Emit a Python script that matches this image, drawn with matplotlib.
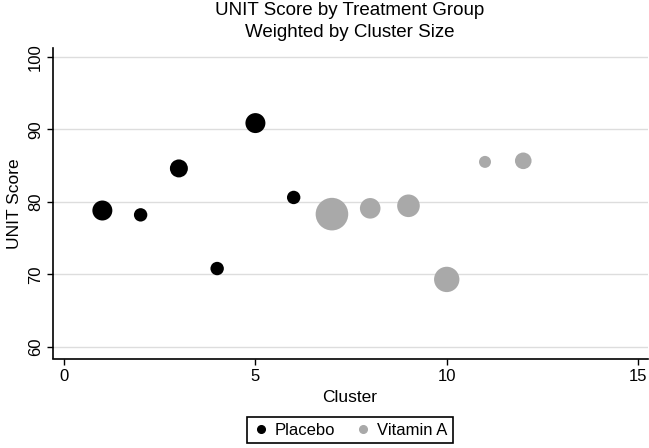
import matplotlib.pyplot as plt
from matplotlib.lines import Line2D

plt.rcParams['font.family'] = ['Liberation Sans', 'DejaVu Sans']

# Data
placebo_cluster = [1, 2, 3, 4, 5, 6]
placebo_score = [78.8, 78.2, 84.6, 70.8, 90.85, 80.6]
placebo_size = [100, 45, 81, 45, 100, 45]

vita_cluster = [7, 8, 9, 10, 11, 12]
vita_score = [78.3, 79.1, 79.45, 69.3, 85.5, 85.65]
vita_size = [266, 106, 128, 161, 36, 69]

y_ticks = [60, 70, 80, 90, 100]
x_ticks = [0, 5, 10, 15]

fig = plt.figure(figsize=(6.49, 4.48), dpi=100)
ax = fig.add_axes([53 / 649, 1 - 358.5 / 448, 595 / 649, 310.5 / 448])

k = 2.07  # marker area per unit of cluster size
ax.scatter(placebo_cluster, placebo_score, s=[v * k for v in placebo_size],
           color='black', linewidths=0, zorder=3)
ax.scatter(vita_cluster, vita_score, s=[v * k for v in vita_size],
           color='#a9a9a9', linewidths=0, zorder=3)

ax.set_xlim(-0.29, 15.26)
ax.set_ylim(58.4, 101.2)
ax.set_xticks(x_ticks)
ax.set_yticks(y_ticks)
ax.set_yticklabels([str(t) for t in y_ticks], rotation=90, va='center')
ax.tick_params(length=4.3, width=1, labelsize=12, pad=3)
ax.grid(axis='y', color='#dddddd', linewidth=1)
ax.set_axisbelow(True)
for s in ['top', 'right']:
    ax.spines[s].set_visible(False)
for s in ['left', 'bottom']:
    ax.spines[s].set_linewidth(1.2)

ax.set_ylabel('UNIT Score', fontsize=12.5, labelpad=4)

fig.text(350 / 649, 1 - 15 / 448, 'UNIT Score by Treatment Group',
         ha='center', va='baseline', fontsize=13.5)
fig.text(350 / 649, 1 - 37 / 448, 'Weighted by Cluster Size',
         ha='center', va='baseline', fontsize=13.5)
fig.text(350 / 649, 1 - 402 / 448, 'Cluster',
         ha='center', va='baseline', fontsize=12.5)

handles = [
    Line2D([], [], marker='o', linestyle='none', color='black', markersize=5.5),
    Line2D([], [], marker='o', linestyle='none', color='#a9a9a9', markersize=5.5),
]
leg = fig.legend(handles, ['Placebo', 'Vitamin A'], loc='center',
                 bbox_to_anchor=(350 / 649, 1 - 430 / 448), ncol=2,
                 fontsize=12, fancybox=False, framealpha=1, edgecolor='black',
                 handletextpad=0.3, columnspacing=1.2, borderpad=0.35,
                 handlelength=1.0)
leg.get_frame().set_linewidth(1.2)

fig.savefig('out.png', dpi=100)
